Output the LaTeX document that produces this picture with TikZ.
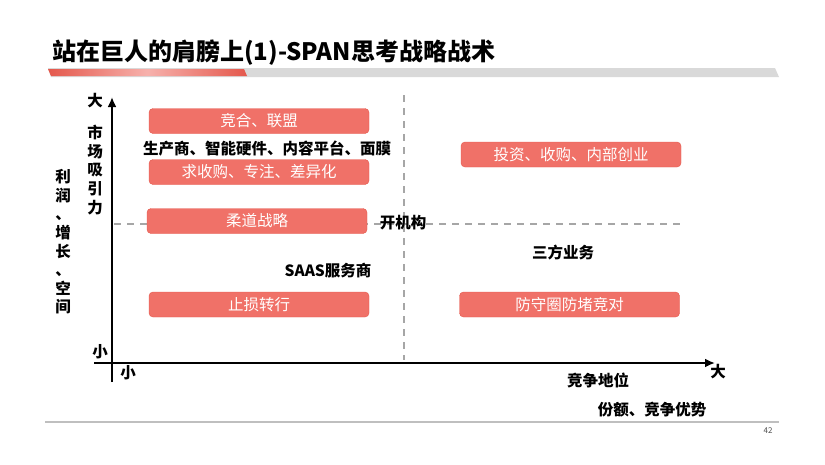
\documentclass[tikz,border=0pt]{standalone}
\usepackage{fontspec}
\setmainfont{Noto Sans CJK SC}
\usetikzlibrary{
  arrows.meta,
  positioning,
  calc
}
\definecolor{spRed}{HTML}{F07168}
\definecolor{spRedDark}{HTML}{E4584C}
\definecolor{spBar}{HTML}{D9D9D9}
\definecolor{spDash}{HTML}{A6A6A6}
\definecolor{spRule}{HTML}{BFBFBF}
\tikzset{
  spbox/.style={
    draw=spRedDark, fill=spRed, rounded corners=4pt, minimum width=220pt,
    minimum height=25pt, inner sep=0pt, text=white,
    font=\fontsize{15.5}{18}\selectfont
  },
  sptag/.style={inner sep=0pt, font=\fontsize{15.5}{18}\selectfont\bfseries},
  vtag/.style={sptag, align=center, font=\fontsize{15.5}{18.6}\selectfont\bfseries},
  axisline/.style={line width=2.5pt, -{Latex[length=10pt, width=9pt]}},
  dashline/.style={spDash, line width=2pt, dash pattern=on 7pt off 6pt},
  titletag/.style={inner sep=0pt, anchor=west, font=\fontsize{24}{28}\selectfont\bfseries}
}

\begin{document}
\begin{tikzpicture}[x=1pt, y=-1pt]
  \useasboundingbox (0,0) rectangle (825,464);

  % title and bar
  \node[titletag] (title) at (52,53) {站在巨人的肩膀上(1)-SPAN思考战略战术};
  \fill[spBar] (48,68) -- (775,68) -- (779,77) -- (51,77) -- cycle;
  \shade[left color=spRedDark, right color=spRedDark, middle color=spRed!55]
    (48,69) -- (244,69) -- (247,76) -- (51,76) -- cycle;

  % quadrant split
  \coordinate (vtop) at (404,95);
  \coordinate (vbot) at (404,360);
  \coordinate (hleft) at (114,224);
  \coordinate (hright) at (683,224);
  \draw[dashline] (vtop) -- (vbot);
  \draw[dashline] (hleft) -- (hright);

  % axes
  \coordinate (ybot) at (112,382);
  \coordinate (ytop) at (112,97);
  \coordinate (xleft) at (94,363);
  \coordinate (xright) at (715,363);
  \draw[axisline] (ybot) -- (ytop);
  \draw[axisline] (xleft) -- (xright);

  % strategy boxes
  \node[spbox] (coop) at (259,121) {竞合、联盟};
  \node[spbox] (focus) at (259,172) {求收购、专注、差异化};
  \node[spbox] (judo) at (257,221) {柔道战略};
  \node[spbox] (exit) at (259,304.5) {止损转行};
  \node[spbox] (invest) at (571,154.5) {投资、收购、内部创业};
  \node[spbox] (defend) at (569.5,304.5) {防守圈防堵竞对};

  % examples
  \node[sptag] (maker) at (267,149) {生产商、智能硬件、内容平台、面膜};
  \node[sptag] (org) at (403,223) {开机构};
  \node[sptag] (saas) at (328,271) {SAAS服务商};
  \node[sptag] (third) at (563,253) {三方业务};

  % axis labels
  \node[sptag] (ybig) at (95,101) {大};
  \node[vtag] (ylabel) at (95,170) {市\\场\\吸\\引\\力};
  \node[vtag] (ysub) at (63,242) {利\\润\\、\\增\\长\\、\\空\\间};
  \node[sptag] (ysmall) at (100,352) {小};
  \node[sptag] (xsmall) at (128,373) {小};
  \node[sptag] (xlabel) at (598,380) {竞争地位};
  \node[sptag] (xbig) at (718,372) {大};
  \node[sptag] (xsub) at (652,410) {份额、竞争优势};

  % footer
  \coordinate (rleft) at (45,422);
  \coordinate (rright) at (779,422);
  \draw[spRule, line width=1.2pt] (rleft) -- (rright);
  \node[inner sep=0pt, font=\fontsize{8}{9}\selectfont, text=black!70] (page) at (768,431) {42};
\end{tikzpicture}
\end{document}
